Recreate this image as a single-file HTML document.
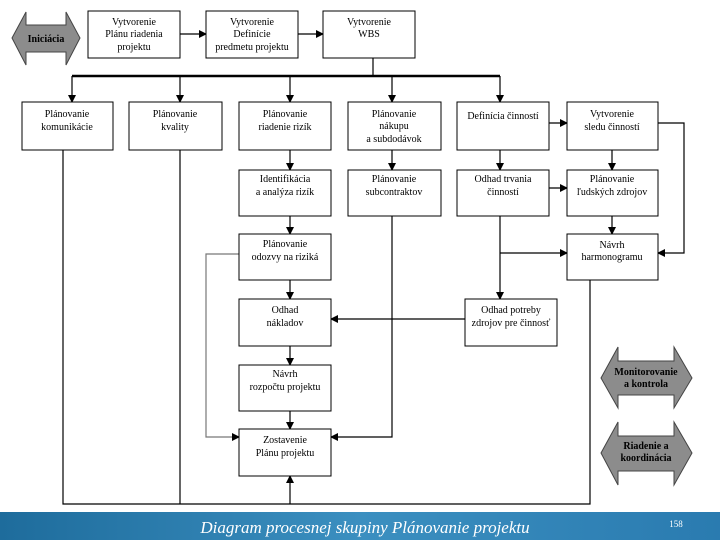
<!DOCTYPE html>
<html><head><meta charset="utf-8"><style>
body{margin:0;width:720px;height:540px;overflow:hidden;background:#fff}
svg text{font-family:"Liberation Serif",serif;font-size:10px;fill:#000;text-anchor:middle}
.b{fill:#fff;stroke:#000;stroke-width:1}
.l{stroke:#000;stroke-width:1.2;fill:none}
</style></head><body>
<svg width="720" height="540" viewBox="0 0 720 540">
<defs><marker id="a" markerWidth="8" markerHeight="8" refX="7" refY="4" orient="auto" markerUnits="userSpaceOnUse"><path d="M0,0L8,4L0,8z" fill="#000"/></marker>
<linearGradient id="f" x1="0" x2="1"><stop offset="0" stop-color="#1e6c9c"/><stop offset="0.5" stop-color="#3b8fc0"/><stop offset="1" stop-color="#2a7bb0"/></linearGradient></defs>
<!-- Iniciacia -->
<path d="M12,38L26,12V25H66V12L80,38L66,65V52H26V65Z" fill="#8c8c8c" stroke="#444"/>
<text x="46" y="42" font-weight="bold">Iniciácia</text>
<path d="M601,378L618,347V361H674V347L692,378L674,408V395H618V408Z" fill="#8c8c8c" stroke="#444"/>
<text x="646" y="375" font-weight="bold">Monitorovanie</text><text x="646" y="387" font-weight="bold">a kontrola</text>
<path d="M601,453L618,422V436H674V422L692,453L674,485V471H618V485Z" fill="#8c8c8c" stroke="#444"/>
<text x="646" y="449" font-weight="bold">Riadenie a</text><text x="646" y="461" font-weight="bold">koordinácia</text>
<!-- lines -->
<g class="l">
<path d="M180,34H206" marker-end="url(#a)"/><path d="M298,34H323" marker-end="url(#a)"/>
<path d="M373,58V76"/><path d="M72,76H500" stroke-width="2.5"/>
<path d="M72,76V102" marker-end="url(#a)"/><path d="M180,76V102" marker-end="url(#a)"/><path d="M290,76V102" marker-end="url(#a)"/><path d="M392,76V102" marker-end="url(#a)"/><path d="M500,76V102" marker-end="url(#a)"/>
<path d="M549,123H567" marker-end="url(#a)"/>
<path d="M658,123H684V253H658" marker-end="url(#a)"/>
<path d="M612,150V170" marker-end="url(#a)"/><path d="M612,216V234" marker-end="url(#a)"/>
<path d="M549,188H567" marker-end="url(#a)"/>
<path d="M290,150V170" marker-end="url(#a)"/><path d="M290,216V234" marker-end="url(#a)"/>
<path d="M392,150V170" marker-end="url(#a)"/><path d="M500,150V170" marker-end="url(#a)"/>
<path d="M290,280V299" marker-end="url(#a)"/><path d="M290,346V365" marker-end="url(#a)"/><path d="M290,411V429" marker-end="url(#a)"/>
<path d="M500,216V299" marker-end="url(#a)"/><path d="M500,253H567" marker-end="url(#a)"/>
<path d="M465,319H331" marker-end="url(#a)"/>
<path d="M392,216V437H331" marker-end="url(#a)"/>
<path d="M239,254H206V437H239" stroke="#777" marker-end="url(#a)"/>
<path d="M63,150V504H590V280"/><path d="M180,150V504"/>
<path d="M290,504V476" marker-end="url(#a)"/>
</g>
<!-- boxes -->
<rect class="b" x="88" y="11" width="92" height="47"/><text x="134" y="25">Vytvorenie</text><text x="134" y="37">Plánu riadenia</text><text x="134" y="50">projektu</text>
<rect class="b" x="206" y="11" width="92" height="47"/><text x="252" y="25">Vytvorenie</text><text x="252" y="37">Definície</text><text x="252" y="50">predmetu projektu</text>
<rect class="b" x="323" y="11" width="92" height="47"/><text x="369" y="25">Vytvorenie</text><text x="369" y="37">WBS</text>
<rect class="b" x="22" y="102" width="91" height="48"/><text x="67" y="117">Plánovanie</text><text x="67" y="130">komunikácie</text>
<rect class="b" x="129" y="102" width="93" height="48"/><text x="175" y="117">Plánovanie</text><text x="175" y="130">kvality</text>
<rect class="b" x="239" y="102" width="92" height="48"/><text x="285" y="117">Plánovanie</text><text x="285" y="130">riadenie rizík</text>
<rect class="b" x="348" y="102" width="93" height="48"/><text x="394" y="117">Plánovanie</text><text x="394" y="129">nákupu</text><text x="394" y="142">a subdodávok</text>
<rect class="b" x="457" y="102" width="92" height="48"/><text x="503" y="119">Definícia činností</text>
<rect class="b" x="567" y="102" width="91" height="48"/><text x="612" y="117">Vytvorenie</text><text x="612" y="130">sledu činností</text>
<rect class="b" x="239" y="170" width="92" height="46"/><text x="285" y="182">Identifikácia</text><text x="285" y="195">a analýza rizík</text>
<rect class="b" x="348" y="170" width="93" height="46"/><text x="394" y="182">Plánovanie</text><text x="394" y="195">subcontraktov</text>
<rect class="b" x="457" y="170" width="92" height="46"/><text x="503" y="182">Odhad trvania</text><text x="503" y="195">činností</text>
<rect class="b" x="567" y="170" width="91" height="46"/><text x="612" y="182">Plánovanie</text><text x="612" y="195">ľudských zdrojov</text>
<rect class="b" x="239" y="234" width="92" height="46"/><text x="285" y="247">Plánovanie</text><text x="285" y="260">odozvy na riziká</text>
<rect class="b" x="567" y="234" width="91" height="46"/><text x="612" y="248">Návrh</text><text x="612" y="260">harmonogramu</text>
<rect class="b" x="239" y="299" width="92" height="47"/><text x="285" y="313">Odhad</text><text x="285" y="326">nákladov</text>
<rect class="b" x="465" y="299" width="92" height="47"/><text x="511" y="313">Odhad potreby</text><text x="511" y="326">zdrojov pre činnosť</text>
<rect class="b" x="239" y="365" width="92" height="46"/><text x="285" y="377">Návrh</text><text x="285" y="390">rozpočtu projektu</text>
<rect class="b" x="239" y="429" width="92" height="47"/><text x="285" y="443">Zostavenie</text><text x="285" y="456">Plánu projektu</text>
<!-- footer -->
<rect x="0" y="512" width="720" height="28" fill="url(#f)"/>
<text x="365" y="533" style="font-size:17px;font-style:italic;fill:#fff">Diagram procesnej skupiny Plánovanie projektu</text>
<text x="676" y="527" style="font-size:9px;fill:#fff">158</text>
</svg>
</body></html>
